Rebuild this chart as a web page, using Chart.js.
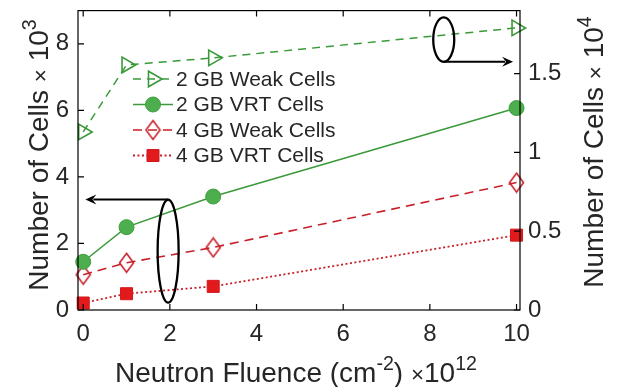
<!DOCTYPE html>
<html><head><meta charset="utf-8">
<script src="https://cdn.jsdelivr.net/npm/chart.js@4.4.0/dist/chart.umd.min.js"></script>
<style>html,body{margin:0;padding:0;background:#fff;}#wrap{width:619px;height:387px;}</style>
</head><body><div id="wrap"><canvas id="c" width="619" height="387"></canvas></div>
<script>
// ---- data ----
const fluence = [0, 1, 3, 10];                 // x (×10^12 cm^-2)
const weak2GB = [1.13, 1.555, 1.6, 1.79];      // right axis (×10^4)
const vrt2GB  = [1.45, 2.49, 3.41, 6.07];      // left axis (×10^3)
const weak4GB = [1.06, 1.42, 1.88, 3.83];      // left axis (×10^3)
const vrt4GB  = [0.21, 0.49, 0.71, 2.25];      // left axis (×10^3)
const seriesNames = ['2 GB Weak Cells', '2 GB VRT Cells', '4 GB Weak Cells', '4 GB VRT Cells'];
const xTicks = [0, 2, 4, 6, 8, 10];
const leftTicks = [0, 2, 4, 6, 8];
const rightTicks = [0, 0.5, 1, 1.5];
const rightTickLabels = ['0', '0.5', '1', '1.5'];

const FONT = '"Liberation Sans", Arial, Helvetica, sans-serif';
const TXT = '#262626';
const GREEN = '#3a9a3a', GREEN_FILL = '#4cae4c';
const RED = '#c8202a', RED_FILL = '#e31a1c';

function pts(ys) { return fluence.map((x, i) => ({ x: x, y: ys[i] })); }

// tall open diamond marker
function makeDiamond() {
  const c = document.createElement('canvas');
  c.width = 17; c.height = 22;
  const g = c.getContext('2d');
  g.strokeStyle = RED; g.lineWidth = 1.6;
  g.beginPath();
  g.moveTo(8.5, 1.5); g.lineTo(15.5, 11); g.lineTo(8.5, 20.5); g.lineTo(1.5, 11); g.closePath();
  g.stroke();
  return c;
}
const diamond = makeDiamond();

const datasets = [
  { label: seriesNames[0], data: pts(weak2GB), yAxisID: 'y1', borderColor: GREEN, borderWidth: 1.5,
    borderDash: [8, 6], pointStyle: 'triangle', pointRotation: 90, pointRadius: 9,
    pointBackgroundColor: 'rgba(0,0,0,0)', pointBorderColor: GREEN, pointBorderWidth: 1.6 },
  { label: seriesNames[1], data: pts(vrt2GB), yAxisID: 'y', borderColor: GREEN, borderWidth: 1.5,
    borderDash: [], pointStyle: 'circle', pointRadius: 7.5,
    pointBackgroundColor: GREEN_FILL, pointBorderColor: '#3f9e3f', pointBorderWidth: 1 },
  { label: seriesNames[2], data: pts(weak4GB), yAxisID: 'y', borderColor: RED, borderWidth: 1.6,
    borderDash: [9, 6], pointStyle: diamond, pointRadius: 9,
    pointBackgroundColor: 'rgba(0,0,0,0)', pointBorderColor: RED, pointBorderWidth: 1.5 },
  { label: seriesNames[3], data: pts(vrt4GB), yAxisID: 'y', borderColor: RED, borderWidth: 1.8,
    borderDash: [2, 2.5], pointStyle: 'rect', pointRadius: 8.5,
    pointBackgroundColor: RED_FILL, pointBorderColor: '#d2191f', pointBorderWidth: 1 }
];
datasets.forEach(d => { d.fill = false; d.tension = 0; d.clip = false; d.pointHoverRadius = d.pointRadius; });

function drawRich(ctx, parts, size, x0, y0) {
  const sz = p => p.s ? size * 0.7 : (p.m ? size * 0.8 : size);
  let w = 0;
  const ms = parts.map(p => {
    ctx.font = sz(p) + 'px ' + FONT;
    const m = ctx.measureText(p.t).width; w += m; return m;
  });
  let x = x0 - w / 2;
  ctx.textAlign = 'left'; ctx.textBaseline = 'alphabetic';
  parts.forEach((p, i) => {
    ctx.font = sz(p) + 'px ' + FONT;
    ctx.fillText(p.t, x, y0 - (p.s ? size * 0.42 : 0));
    x += ms[i];
  });
}

function arrowHead(ctx, tx, ty, dir) {
  const L = 11, H = 5, N = 7;
  ctx.beginPath();
  ctx.moveTo(tx, ty);
  ctx.lineTo(tx - dir * L, ty - H);
  ctx.lineTo(tx - dir * N, ty);
  ctx.lineTo(tx - dir * L, ty + H);
  ctx.closePath();
  ctx.fill();
}

const decor = {
  id: 'decor',
  afterDatasetsDraw(chart) {
    const ctx = chart.ctx, a = chart.chartArea;
    const xs = chart.scales.x, yl = chart.scales.y, yr = chart.scales.y1;
    ctx.save();
    // frame
    ctx.strokeStyle = '#000'; ctx.lineWidth = 1.2;
    ctx.strokeRect(a.left, a.top, a.right - a.left, a.bottom - a.top);
    // inward ticks
    const TL = 6;
    ctx.beginPath();
    xTicks.forEach(v => { const p = xs.getPixelForValue(v);
      ctx.moveTo(p, a.bottom); ctx.lineTo(p, a.bottom - TL);
      ctx.moveTo(p, a.top); ctx.lineTo(p, a.top + TL); });
    leftTicks.forEach(v => { const p = yl.getPixelForValue(v);
      ctx.moveTo(a.left, p); ctx.lineTo(a.left + TL, p); });
    rightTicks.forEach(v => { const p = yr.getPixelForValue(v);
      ctx.moveTo(a.right, p); ctx.lineTo(a.right - TL, p); });
    ctx.stroke();

    // ellipses + arrows (annotations)
    ctx.strokeStyle = '#000'; ctx.fillStyle = '#000'; ctx.lineWidth = 2.3;
    const e1x = xs.getPixelForValue(1.96), e1y = yl.getPixelForValue(1.77);
    const e1ry = e1y - yl.getPixelForValue(3.32);
    ctx.beginPath(); ctx.ellipse(e1x, e1y, 10.5, e1ry, 0, 0, Math.PI * 2); ctx.stroke();
    const t1x = xs.getPixelForValue(0.05), t1y = e1y - e1ry;
    ctx.lineWidth = 2;
    ctx.beginPath(); ctx.moveTo(e1x, t1y); ctx.lineTo(t1x + 8, t1y); ctx.stroke();
    arrowHead(ctx, t1x, t1y, -1);
    ctx.lineWidth = 2.3;
    const e2x = xs.getPixelForValue(8.32), e2y = yr.getPixelForValue(1.716);
    const e2ry = yr.getPixelForValue(1.575) - e2y;
    ctx.beginPath(); ctx.ellipse(e2x, e2y, 10.5, e2ry, 0, 0, Math.PI * 2); ctx.stroke();
    const t2x = xs.getPixelForValue(9.92), t2y = e2y + e2ry;
    ctx.lineWidth = 2;
    ctx.beginPath(); ctx.moveTo(e2x, t2y); ctx.lineTo(t2x - 8, t2y); ctx.stroke();
    arrowHead(ctx, t2x, t2y, 1);

    // legend
    const lx0 = 133, lx1 = 173, mx = 153, tx = 176, ly0 = 79, dy = 25.5;
    chart.data.datasets.forEach((d, i) => {
      const y = ly0 + i * dy;
      ctx.save();
      ctx.strokeStyle = d.borderColor; ctx.lineWidth = d.borderWidth; ctx.setLineDash(d.borderDash);
      ctx.beginPath(); ctx.moveTo(lx0, y); ctx.lineTo(lx1, y); ctx.stroke();
      ctx.setLineDash([]);
      ctx.fillStyle = d.pointBackgroundColor; ctx.strokeStyle = d.pointBorderColor; ctx.lineWidth = d.pointBorderWidth;
      Chart.helpers.drawPoint(ctx, { pointStyle: d.pointStyle, rotation: d.pointRotation || 0,
        radius: d.pointRadius, borderWidth: d.pointBorderWidth }, mx, y);
      ctx.restore();
      ctx.fillStyle = TXT; ctx.font = '21px ' + FONT; ctx.textAlign = 'left'; ctx.textBaseline = 'middle';
      ctx.fillText(d.label, tx, y + 1);
    });

    // axis titles
    ctx.fillStyle = TXT;
    const TS = 28;
    drawRich(ctx, [{ t: 'Neutron Fluence (cm' }, { t: '-2', s: 1 }, { t: ') ' }, { t: '\u00d7', m: 1 }, { t: '10' }, { t: '12', s: 1 }], TS, 296, 382);
    ctx.save(); ctx.translate(48, 155); ctx.rotate(-Math.PI / 2);
    drawRich(ctx, [{ t: 'Number of Cells ' }, { t: '\u00d7', m: 1 }, { t: ' 10' }, { t: '3', s: 1 }], TS, 0, 0);
    ctx.restore();
    ctx.save(); ctx.translate(603, 152); ctx.rotate(-Math.PI / 2);
    drawRich(ctx, [{ t: 'Number of Cells ' }, { t: '\u00d7', m: 1 }, { t: ' 10' }, { t: '4', s: 1 }], TS, 0, 0);
    ctx.restore();
    ctx.restore();
  }
};

const tickFont = { family: FONT, size: 24 };
function fixY(w) { return s => { s.width = w; s.paddingTop = 0; s.paddingBottom = 0; }; }
new Chart(document.getElementById('c'), {
  type: 'line',
  data: { datasets: datasets },
  options: {
    responsive: false, animation: false, devicePixelRatio: 1,
    layout: { padding: { top: 7, left: 0, right: 0, bottom: 0 } },
    plugins: { legend: { display: false }, tooltip: { enabled: false } },
    scales: {
      x: { type: 'linear', position: 'bottom', min: -0.12, max: 10.08,
        grid: { display: false, drawTicks: false }, border: { display: false },
        ticks: { color: TXT, font: tickFont, padding: 10, maxRotation: 0, autoSkip: false },
        afterBuildTicks: s => { s.ticks = xTicks.map(v => ({ value: v })); },
        afterFit: s => { s.height = 77; s.paddingLeft = 0; s.paddingRight = 0; } },
      y: { type: 'linear', position: 'left', min: 0, max: 9,
        grid: { display: false, drawTicks: false }, border: { display: false },
        ticks: { color: TXT, font: tickFont, padding: 9, autoSkip: false },
        afterBuildTicks: s => { s.ticks = leftTicks.map(v => ({ value: v })); },
        afterFit: fixY(78) },
      y1: { type: 'linear', position: 'right', min: 0, max: 1.9,
        grid: { display: false, drawTicks: false }, border: { display: false },
        ticks: { color: TXT, font: tickFont, padding: 8, autoSkip: false,
          callback: (v) => { const i = rightTicks.indexOf(v); return i >= 0 ? rightTickLabels[i] : ''; } },
        afterBuildTicks: s => { s.ticks = rightTicks.map(v => ({ value: v })); },
        afterFit: fixY(99) }
    }
  },
  plugins: [decor]
});
</script>
</body></html>
